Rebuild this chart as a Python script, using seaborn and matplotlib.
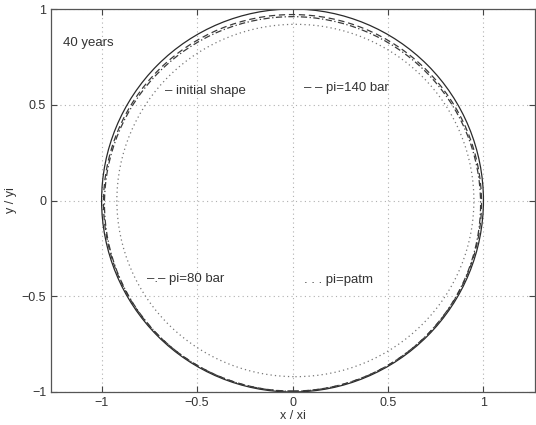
import matplotlib
matplotlib.use("Agg")
import matplotlib.pyplot as plt
from matplotlib.patches import Ellipse
import seaborn as sns

# Shape parameters (dimensionless x/xi, y/yi)
series = ["initial shape", "pi=140 bar", "pi=80 bar", "pi=patm"]
center_x = [0.0, 0.0, 0.0, 0.015]
center_y = [0.0, -0.012, -0.018, 0.0]
radius_x = [1.0, 0.99, 0.985, 0.935]
radius_y = [1.0, 0.983, 0.978, 0.92]
styles = ["-", (0, (5, 3)), (0, (5, 2, 1, 2)), (0, (1, 2.5))]
colors = ["#2a2a2a", "#3a3a3a", "#3a3a3a", "#777777"]

x_ticks = [-1, -0.5, 0, 0.5, 1]
y_ticks = [-1, -0.5, 0, 0.5, 1]
x_ticklabels = ["\u22121", "\u22120.5", "0", "0.5", "1"]
y_ticklabels = ["\u22121", "\u22120.5", "0", "0.5", "1"]

annotations = ["40 years", "\u2013 initial shape", "\u2013 \u2013 pi=140 bar",
               "\u2013.\u2013 pi=80 bar", ". . . pi=patm"]
annot_x = [-1.2, -0.67, 0.06, -0.76, 0.06]
annot_y = [0.82, 0.57, 0.59, -0.41, -0.415]

sns.set_theme(style="ticks")
plt.rcParams["font.family"] = ["Liberation Sans", "DejaVu Sans"]

fig = plt.figure(figsize=(5.36, 4.25), dpi=100)
ax = fig.add_axes([51 / 536, 33 / 425, 484 / 536, 383 / 425])

for cx, cy, rx, ry, ls, c, name in zip(center_x, center_y, radius_x, radius_y,
                                       styles, colors, series):
    e = Ellipse((cx, cy), 2 * rx, 2 * ry, fill=False, edgecolor=c,
                linewidth=0.9, linestyle=ls, label=name)
    ax.add_patch(e)

ax.set_xlim(-1.265, 1.27)
ax.set_ylim(-1, 1)
ax.set_xticks(x_ticks)
ax.set_xticklabels(x_ticklabels)
ax.set_yticks(y_ticks)
ax.set_yticklabels(y_ticklabels)
ax.grid(True, linestyle=(0, (1, 3)), color="#b0b0b0", linewidth=0.8)
ax.tick_params(direction="in", length=4, width=0.8, colors="#444444",
               labelsize=9, top=True, right=True, labelcolor="#333333")
for sp in ax.spines.values():
    sp.set_visible(True)
    sp.set_color("#555555")
    sp.set_linewidth(0.9)

ax.set_xlabel("x / xi", fontsize=9, color="#333333", labelpad=1)
ax.set_ylabel("y / yi", fontsize=9, color="#333333", labelpad=3)

for t, x, y in zip(annotations, annot_x, annot_y):
    ax.text(x, y, t, fontsize=9.5, color="#333333", ha="left", va="center")

fig.savefig("out.png", dpi=100)
